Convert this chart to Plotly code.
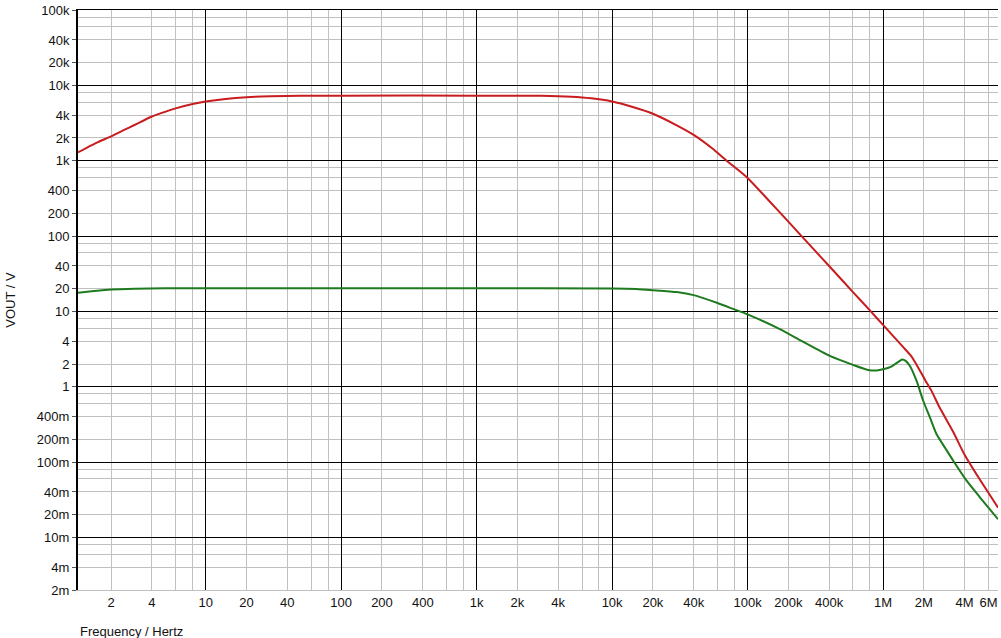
import plotly.graph_objects as go
import numpy as np

# ---- data ----
freq_red = [1.14, 1.3, 1.6, 2, 2.5, 3, 4, 5, 6, 8, 10, 14, 20, 30, 50, 100, 1e3,
            3e3, 5e3, 7e3, 1e4, 1.4e4, 2e4, 3e4, 4e4, 5.5e4, 7e4, 1e5, 1.4e5, 2e5,
            3e5, 4e5, 6e5, 8e5, 1e6, 1.41e6, 1.6e6, 1.73e6, 2.05e6, 2.28e6, 2.6e6,
            3.3e6, 4e6, 5.2e6, 7.06e6]
vout_red = [1290, 1460, 1760, 2100, 2560, 3000, 3860, 4450, 4950, 5650, 6100, 6600,
            6950, 7150, 7250, 7300, 7300, 7250, 7050, 6720, 6100, 5200, 4200, 2950,
            2200, 1450, 1000, 590, 310, 155, 70, 40, 18, 10.3, 6.6, 3.35, 2.6, 2.1,
            1.22, 0.88, 0.54, 0.25, 0.125, 0.058, 0.0248]

freq_green = [1.14, 1.5, 2, 3, 5, 10, 100, 1e3, 1e4, 1.5e4, 2e4, 3e4, 4e4, 6e4,
              8e4, 1e5, 1.73e5, 2.5e5, 4.05e5, 6e5, 7.76e5, 9e5, 1e6, 1.15e6,
              1.28e6, 1.39e6, 1.47e6, 1.58e6, 1.77e6, 1.98e6, 2.22e6, 2.48e6,
              2.9e6, 3.3e6, 4.14e6, 5.19e6, 7.06e6]
vout_green = [17.6, 18.6, 19.5, 20, 20.2, 20.2, 20.2, 20.2, 20.1, 19.8, 19.1, 18,
              16.4, 12.9, 10.6, 9.1, 5.8, 4.05, 2.56, 1.95, 1.67, 1.64, 1.7, 1.85,
              2.1, 2.3, 2.2, 1.88, 1.19, 0.65, 0.39, 0.235, 0.15, 0.104, 0.0565,
              0.034, 0.0174]

x_tickvals = [2, 4, 10, 20, 40, 100, 200, 400, 1e3, 2e3, 4e3, 1e4, 2e4, 4e4,
              1e5, 2e5, 4e5, 1e6, 2e6, 4e6, 6e6]
x_ticktext = ["2", "4", "10", "20", "40", "100", "200", "400", "1k", "2k", "4k",
              "10k", "20k", "40k", "100k", "200k", "400k", "1M", "2M", "4M", "6M"]
y_tickvals = [2e-3, 4e-3, 1e-2, 2e-2, 4e-2, 0.1, 0.2, 0.4, 1, 2, 4, 10, 20, 40,
              100, 200, 400, 1e3, 2e3, 4e3, 1e4, 2e4, 4e4, 1e5]
y_ticktext = ["2m", "4m", "10m", "20m", "40m", "100m", "200m", "400m", "1", "2", "4",
              "10", "20", "40", "100", "200", "400", "1k", "2k", "4k", "10k", "20k",
              "40k", "100k"]

x_decades = [10, 100, 1e3, 1e4, 1e5, 1e6]
y_decades = [1e-2, 0.1, 1, 10, 100, 1e3, 1e4, 1e5]
x_minor = [m * 10 ** e for e in range(0, 7) for m in (2, 4, 6, 8)]
y_minor = [m * 10 ** e for e in range(-3, 5) for m in (2, 4, 6, 8)]

FONT = "Arial, Liberation Sans, sans-serif"
FS = 13
GRID = "#c0c0c0"
xr = [np.log10(1.14), np.log10(7.06e6)]
yr = [np.log10(2e-3), 5]

fig = go.Figure()
fig.add_trace(go.Scatter(x=freq_red, y=vout_red, mode="lines",
                         line=dict(color="#c81c1e", width=2, shape="spline", smoothing=0.6),
                         showlegend=False))
fig.add_trace(go.Scatter(x=freq_green, y=vout_green, mode="lines",
                         line=dict(color="#1e7a1e", width=2, shape="spline", smoothing=0.6),
                         showlegend=False))
# empty trace that activates the overlay axes carrying the black decade grid
fig.add_trace(go.Scatter(x=[], y=[], xaxis="x2", yaxis="y2", showlegend=False,
                         hoverinfo="skip"))

fig.update_layout(
    xaxis=dict(type="log", range=xr,
               tickmode="array", tickvals=x_tickvals, ticktext=x_ticktext,
               showgrid=False,
               minor=dict(tickmode="array", tickvals=x_minor, showgrid=True,
                          gridcolor=GRID, gridwidth=1, ticks=""),
               ticks="", showline=True, linecolor=GRID, linewidth=1,
               zeroline=False, tickfont=dict(family=FONT, size=FS, color="#111")),
    yaxis=dict(type="log", range=yr,
               tickmode="array", tickvals=y_tickvals, ticktext=y_ticktext,
               showgrid=False,
               minor=dict(tickmode="array", tickvals=y_minor, showgrid=True,
                          gridcolor=GRID, gridwidth=1, ticks=""),
               ticks="outside", ticklen=4, tickcolor="#555", tickwidth=1,
               showline=True, linecolor="black", linewidth=2, zeroline=False,
               tickfont=dict(family=FONT, size=FS, color="#111"),
               title=dict(text="VOUT / V",
                          font=dict(family=FONT, size=FS, color="#111"),
                          standoff=18)),
    xaxis2=dict(type="log", range=xr, overlaying="x", anchor="y", side="top",
                tickmode="array", tickvals=x_decades, showticklabels=False,
                ticks="", showgrid=True, gridcolor="black", gridwidth=1,
                showline=True, linecolor="black", linewidth=1, zeroline=False),
    yaxis2=dict(type="log", range=yr, overlaying="y", anchor="x", side="left",
                tickmode="array", tickvals=y_decades, showticklabels=False,
                ticks="", showgrid=True, gridcolor="black", gridwidth=1,
                showline=False, zeroline=False),
)

fig.add_annotation(text="Frequency / Hertz", xref="paper", yref="paper",
                   x=0, y=0, xanchor="left", yanchor="top", yshift=-32, xshift=0,
                   showarrow=False, font=dict(family=FONT, size=FS, color="#111"))

fig.update_layout(width=1001, height=638, margin=dict(l=78, r=3, t=8, b=48),
                  plot_bgcolor="white", paper_bgcolor="white",
                  showlegend=False, hovermode=False)

fig.write_html("out.html", config={"displayModeBar": False},
               post_script="document.body.style.margin='0';")
